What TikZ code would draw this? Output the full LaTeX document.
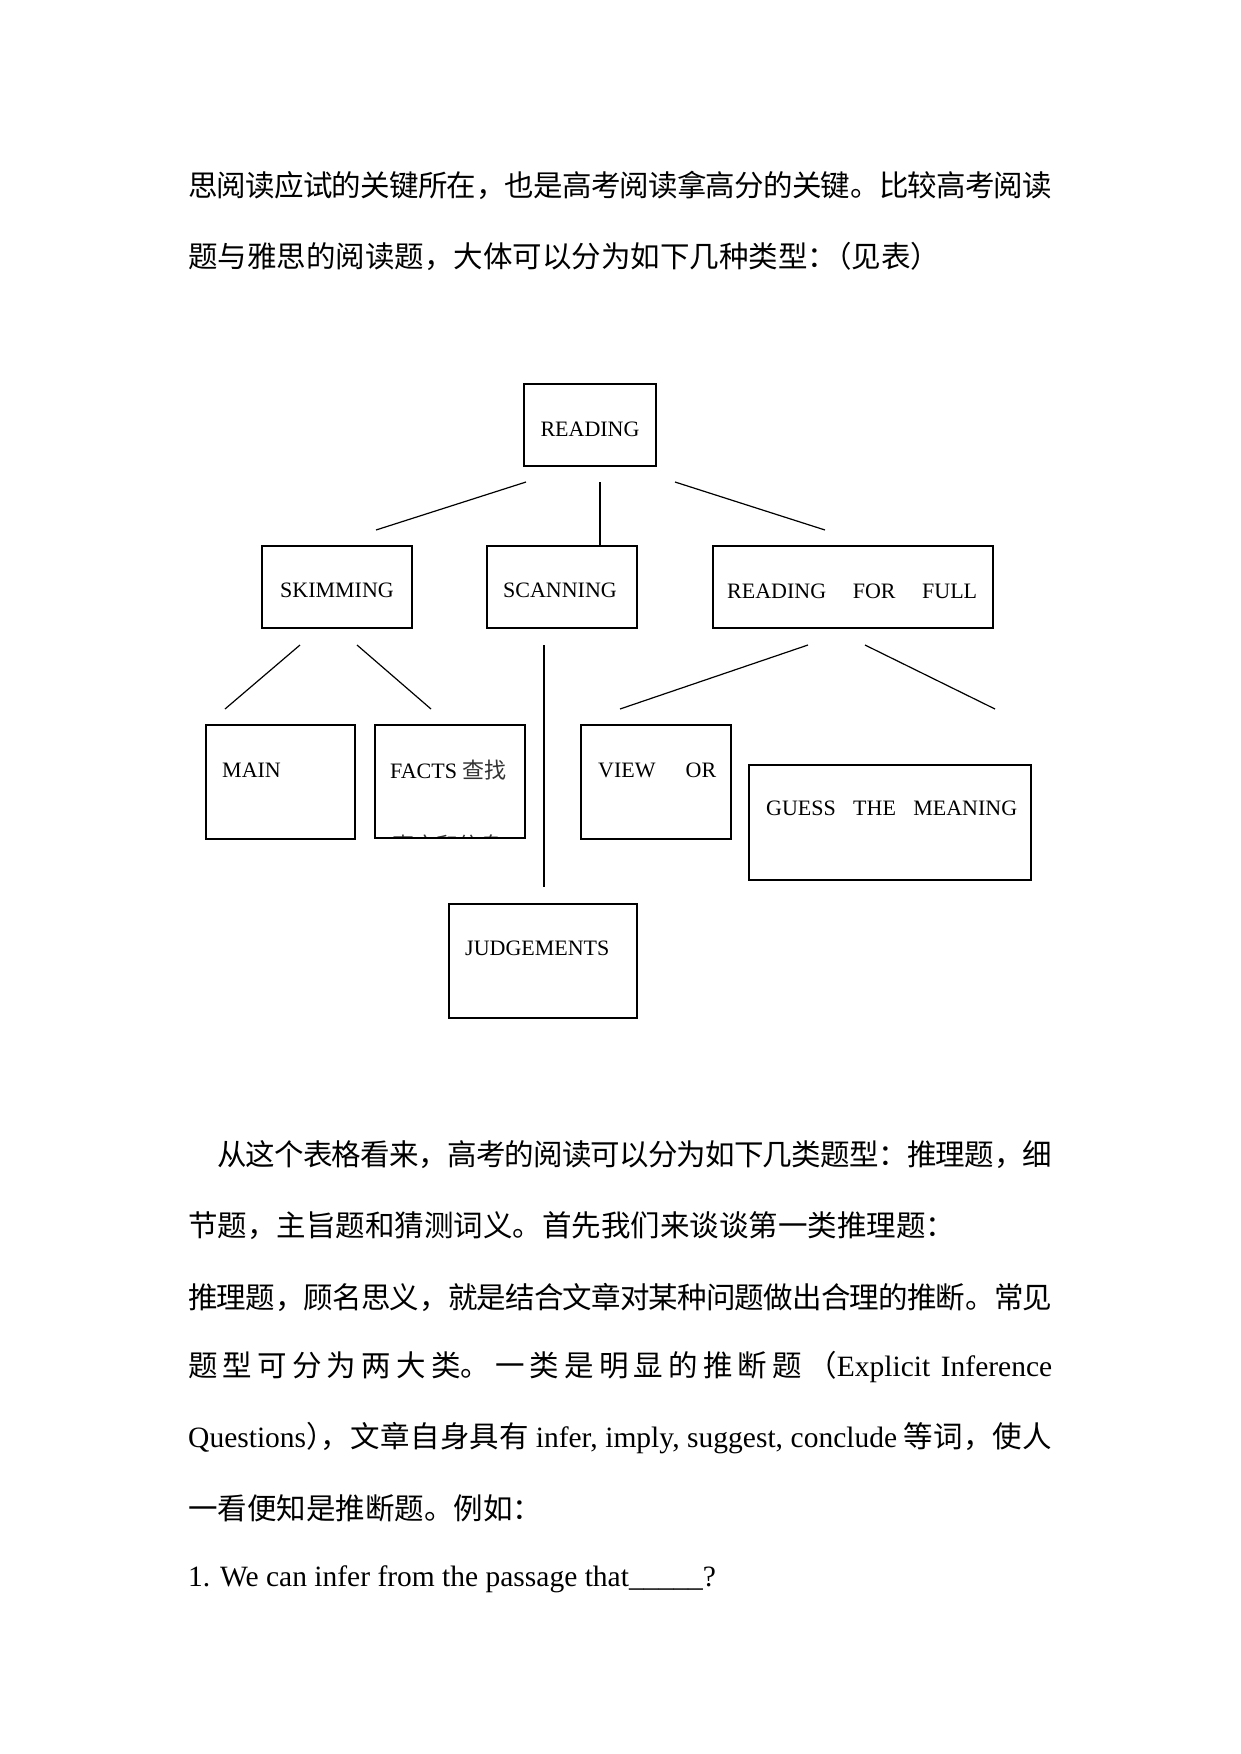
\documentclass[tikz,border=0pt]{standalone}
\usepackage{fontspec}
\setmainfont{Noto Sans CJK SC}
\newfontfamily\lat{Liberation Serif}
\XeTeXlinebreaklocale "zh"
\XeTeXlinebreakskip=0pt plus 6pt minus 1.5pt
\newcommand\fullline[2]{\parbox{#1}{\parindent=0pt\parfillskip=0pt\tolerance=10000\relax #2}}
\tikzset{
  box/.style={draw, line width=2pt, inner sep=0pt},
  thinbox/.style={box, line width=1.2pt},
  lbl/.style={font=\lat\fontsize{22}{26}\selectfont, inner sep=0pt},
  link/.style={line width=1.2pt},
  bodyline/.style={anchor=west, inner sep=0pt, font=\fontsize{29.5}{35}\selectfont},
}
\begin{document}
\begin{tikzpicture}[x=1pt,y=-1pt]
    \useasboundingbox[fill=white] (0,0) rectangle (1241,1754);

    % ===== text above the chart =====
    \node[bodyline] (t1) at (188,185) {\fullline{864pt}{思阅读应试的关键所在，也是高考阅读拿高分的关键。比较高考阅读}};
    \node[bodyline] (t2) at (188,256) {题与雅思的阅读题，大体可以分为如下几种类型：\kern-0.5em（见表）};

    % ===== chart boxes =====
    \node[box, line width=1.6pt, minimum width=132pt, minimum height=82pt] (reading) at (590,425) {};
    \node[lbl] (readinglbl) at (590,429) {READING};

    \node[box, minimum width=150pt, minimum height=82pt] (skim) at (337,587) {};
    \node[lbl] (skimlbl) at (337,590) {SKIMMING};
    \node[thinbox, minimum width=150pt, minimum height=82pt] (scan) at (562,587) {};
    \node[lbl] (scanlbl) at (560,590) {SCANNING};
    \node[box, minimum width=280pt, minimum height=82pt] (rfull) at (853,587) {};
    \node[lbl, anchor=west] (rfulllbl) at (727,591) {\makebox[250pt][s]{READING FOR FULL}};

    \node[box, minimum width=149pt, minimum height=114pt] (main) at (280.5,782) {};
    \node[lbl, anchor=west] (mainlbl) at (222,770) {MAIN};
    \node[box, line width=1.6pt, minimum width=150pt, minimum height=113pt] (facts) at (450,781.5) {};
    \node[lbl, anchor=west] (factslbl) at (390,770) {FACTS {\fontspec{Noto Sans CJK SC}\color{black!80}查找}};
    % second line of the FACTS box, cut off by the box
    \begin{scope}
        \clip (376,726) rectangle (524,836.5);
        \node[lbl, anchor=base west] (factsmore) at (392,853) {\fontspec{Noto Sans CJK SC}\color{black!80}事实和信息};
    \end{scope}
    \node[box, minimum width=150pt, minimum height=114pt] (view) at (656,782) {};
    \node[lbl, anchor=west] (viewlbl) at (598,770) {\makebox[118pt][s]{VIEW OR}};
    \node[box, minimum width=282pt, minimum height=115pt] (guess) at (890,822.5) {};
    \node[lbl, anchor=west] (guesslbl) at (766,808) {\makebox[251pt][s]{GUESS THE MEANING}};
    \node[thinbox, minimum width=188pt, minimum height=114pt] (judge) at (543,961) {};
    \node[lbl, anchor=west] (judgelbl) at (465,948) {JUDGEMENTS};

    % ===== connectors (free ends) =====
    \coordinate (r1) at (526,482);  \coordinate (s0) at (376,530);
    \coordinate (r2) at (600,482);
    \coordinate (r3) at (675,482);  \coordinate (f0) at (825,530);
    \coordinate (k1) at (300,645);  \coordinate (m0) at (225,709);
    \coordinate (k2) at (357,645);  \coordinate (a0) at (431,709);
    \coordinate (c1) at (544,645);  \coordinate (j0) at (544,887);
    \coordinate (u1) at (808,645);  \coordinate (v0) at (620,709);
    \coordinate (u2) at (865,645);  \coordinate (g0) at (995,709);

    \draw[link] (r1) -- (s0);
    \draw[link] (r2) -- (r2 |- scan.north);
    \draw[link] (r3) -- (f0);
    \draw[link] (k1) -- (m0);
    \draw[link] (k2) -- (a0);
    \draw[link] (c1) -- (j0);
    \draw[link] (u1) -- (v0);
    \draw[link] (u2) -- (g0);

    % ===== text below the chart =====
    \node[bodyline] (b1) at (217,1155) {\fullline{835pt}{从这个表格看来，高考的阅读可以分为如下几类题型：推理题，细}};
    \node[bodyline] (b2) at (188,1226) {节题，主旨题和猜测词义。首先我们来谈谈第一类推理题：};
    \node[bodyline] (b3) at (188,1297) {\fullline{864pt}{推理题，顾名思义，就是结合文章对某种问题做出合理的推断。常见}};
    \node[bodyline] (b4) at (188,1367) {\fullline{864pt}{题型可分为两大类。一类是明显的推断题（{\lat Explicit Inference}}};
    \node[bodyline] (b5) at (188,1438) {\fullline{864pt}{{\lat Questions}）\kern-0.5em，文章自身具有 {\lat infer, imply, suggest, conclude} 等词，使人}};
    \node[bodyline] (b6) at (188,1508) {一看便知是推断题。例如：};
    \node[bodyline] (b7) at (188,1579) {\lat 1. We can infer from the passage that\_\_\_\_\_?};
\end{tikzpicture}
\end{document}
